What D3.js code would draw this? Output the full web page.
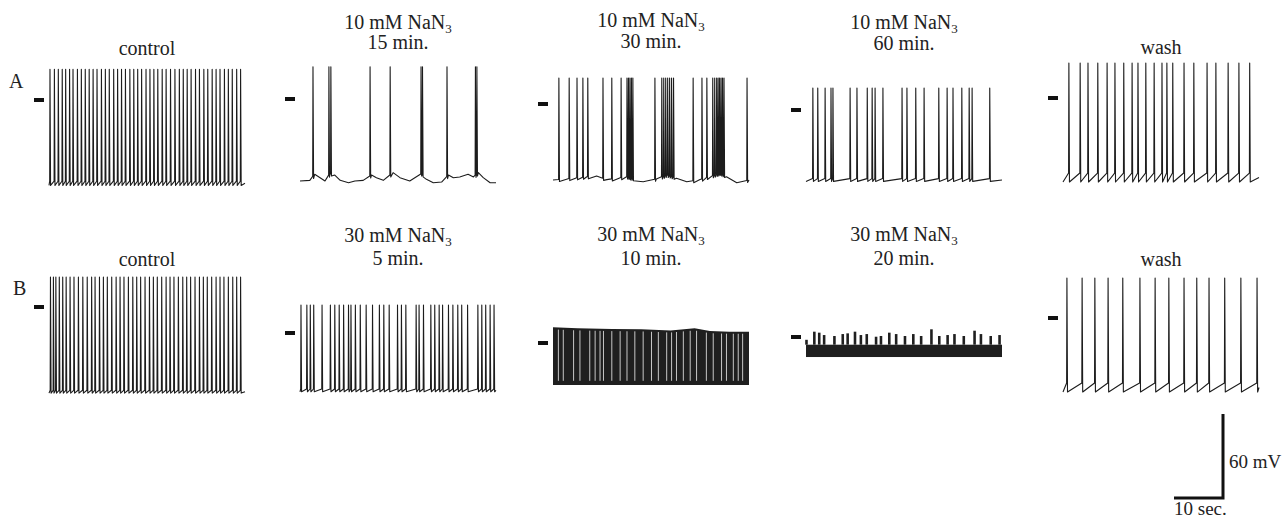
<html>
<head>
<script src="https://d3js.org/d3.v7.min.js"></script>
<style>
body { margin:0; background:#fff; }
text { font-family: "Liberation Serif", "DejaVu Serif", serif; fill:#222; }
</style>
</head>
<body>
<script>
var width = 1285;
var height = 520;
var trW = 196;          // 40 s of trace
var secLen = 40;
var pxPerMv = 1.4;      // 60 mV = 84 px

// ---- data (times in s, potentials in mV; 0 mV = the small dash) ----
var ctrlA = [0.2,1.1,1.9,2.7,3.4,4.2,4.9,5.8,6.6,7.4,8.2,9.0,9.8,10.7,11.5,12.3,13.2,14.0,14.8,15.6,16.5,17.3,18.1,18.9,19.8,20.6,21.4,22.2,23.1,23.9,24.8,25.7,26.6,27.4,28.2,29.0,29.9,30.7,31.6,32.4,33.3,34.1,34.9,35.8,36.6,37.4,38.3,39.1];
var na15 = [2.65,5.9,6.3,14.3,18.4,24.7,25.0,30.0,35.8,36.1];
var na15Base = [[0,-58.6],[2.0,-58.1],[3.0,-53.8],[4.1,-56.2],[5.1,-58.6],[6.1,-53.3],[7.1,-54.3],[8.2,-58.1],[9.9,-59.8],[11.2,-58.6],[12.9,-58.1],[14.6,-54.3],[15.6,-56.2],[17.0,-58.1],[19.0,-52.6],[20.4,-56.2],[22.4,-58.6],[24.8,-53.3],[25.8,-57.4],[27.2,-59.8],[28.9,-59.3],[30.3,-54.3],[31.3,-56.2],[32.6,-55.7],[34.3,-53.8],[35.4,-55.7],[36.4,-52.6],[37.4,-56.2],[38.8,-59.8],[40,-59.8]];
var na30 = [1.2,3.3,4.9,6.1,7.1,10.2,12.0,13.9,15.1,15.4,15.7,16.0,16.3,20.8,22.2,22.6,23.0,23.4,23.8,24.2,24.6,28.6,30.4,31.4,32.6,33.0,33.4,33.7,34.0,34.3,34.6,34.9,39.6];
var na30Base = [[0,-54.3],[6.9,-52],[8.9,-51.5],[11.0,-54],[15.0,-52],[18.4,-55.5],[21.1,-53.5],[23.2,-50.7],[25.2,-53],[27.3,-55.5],[30.0,-54],[34.1,-49.5],[35.4,-52],[37.5,-56.2],[40,-54.3]];
var na60 = [1.4,2.4,3.9,5.1,5.5,9.0,10.4,12.5,13.5,14.1,15.7,19.6,20.6,22.4,24.1,27.1,28.8,30.0,31.8,33.3,33.9,37.5];
var washA = [1.2,3.5,5.1,7.1,9.0,10.6,12.4,14.1,15.3,16.9,18.6,20.2,21.2,22.4,24.7,26.7,29.4,31.2,33.7,35.9,38.1];

var ctrlB = [0.3,0.9,1.4,2.1,2.8,3.5,4.3,5.1,6.0,6.9,7.8,8.7,9.4,10.3,11.1,11.9,12.8,13.7,14.5,15.3,16.2,17.1,17.9,18.7,19.6,20.5,21.3,22.1,23.0,23.9,24.7,25.5,26.4,27.3,28.1,28.9,29.8,30.7,31.5,32.3,33.2,34.1,34.9,35.7,36.6,37.5,38.3,39.1];
var n5 = [0.2,1.4,2.1,2.8,4.5,6.2,7.1,8.0,8.9,9.9,10.4,11.3,12.3,13.5,14.8,16.2,17.1,18.2,19.9,20.7,21.6,23.7,24.3,25.2,26.7,27.5,28.4,29.1,30.3,31.2,32.2,33.0,34.2,36.3,37.1,37.9,38.8,39.6];
var n10Top = [[0,11.2],[5,10.5],[12,10],[18,9.8],[24,9],[28.9,10.5],[32,8.5],[36,8.1],[40,8.1]];
var n10Bottom = -30;
var n10Gaps = [1.1,2.1,4.2,5.5,7.5,8.6,9.6,10.3,12.0,13.7,15.1,16.7,18.4,20.1,21.5,23.2,24.2,25.2,26.6,28.0,29.3,31.3,32.7,34.4,35.4,36.8,37.8,38.7];
var n20Band = [-14.3, -5.5];
var n20Spikes = [[0.1,-2],[1.7,3.8],[2.7,3.1],[3.7,1.4],[5.8,0.7],[7.5,2.1],[8.5,2.6],[10.0,3.8],[11.2,1.4],[12.4,2.1],[14.3,0.2],[15.3,0.7],[17.0,3.1],[18.4,2.1],[20.2,0.7],[21.9,2.1],[23.5,0.7],[25.6,5.5],[27.2,0.7],[28.9,1.4],[30.3,2.1],[32.2,0.7],[34.4,4.5],[35.7,2.1],[37.7,0.7],[39.5,1.4]];
var washB = [0.8,3.9,6.5,9.2,12.2,15.7,18.8,21.6,24.7,27.3,29.8,33.0,36.3,39.6];

// ---- layout of the panels ----
var colX = [49, 300, 553, 806, 1063];
var panels = [
  {col:0, zero:100, title:["control"], ty:[55], spikes:ctrlA, peak:22, thr:-58, ahp:-61},
  {col:1, zero:99, title:["10 mM NaN|3","15 min."], ty:[29,49], spikes:na15, peak:23, base:na15Base},
  {col:2, zero:104, title:["10 mM NaN|3","30 min."], ty:[27,48], spikes:na30, peak:18.6, base:na30Base},
  {col:3, zero:110, title:["10 mM NaN|3","60 min."], ty:[29,50], spikes:na60, peak:15.7, thr:-49, ahp:-51},
  {col:4, zero:98, title:["wash"], ty:[54], spikes:washA, peak:25, thr:-53.6, ahp:-60},
  {col:0, zero:307, title:["control"], ty:[266], spikes:ctrlB, peak:21.4, thr:-59.5, ahp:-61.5},
  {col:1, zero:333, title:["30 mM NaN|3","5 min."], ty:[242,265], spikes:n5, peak:20, thr:-40, ahp:-42},
  {col:2, zero:343, title:["30 mM NaN|3","10 min."], ty:[241,265], block:true},
  {col:3, zero:337, title:["30 mM NaN|3","20 min."], ty:[241,265], band:true},
  {col:4, zero:318, title:["wash"], ty:[266], spikes:washB, peak:28.6, thr:-46.4, ahp:-52.9}
];

var svg = d3.select("body").append("svg")
    .attr("width", width)
    .attr("height", height);

svg.append("text").attr("x", 9).attr("y", 88).style("font-size", "20px").text("A");
svg.append("text").attr("x", 13).attr("y", 295).style("font-size", "20px").text("B");

function buildTrace(p) {
  var bl = p.base ? d3.scaleLinear().domain(p.base.map(function(d){return d[0];})).range(p.base.map(function(d){return d[1];})) : null;
  var pts = [[0, bl ? bl(0) : p.ahp]];
  var last = 0;
  p.spikes.forEach(function(t) {
    if (bl) p.base.forEach(function(b){ if (b[0] > last && b[0] < t - 0.06) pts.push(b); });
    pts.push([t - 0.06, bl ? bl(t) : p.thr]);
    pts.push([t, p.peak]);
    pts.push([t + 0.12, bl ? bl(t) - 1.5 : p.ahp]);
    last = t + 0.12;
  });
  if (bl) p.base.forEach(function(b){ if (b[0] > last) pts.push(b); });
  else pts.push([secLen, (p.thr + p.ahp) / 2]);
  return pts;
}

panels.forEach(function(p) {
  var x0 = colX[p.col];
  var x = d3.scaleLinear().domain([0, secLen]).range([x0, x0 + trW]);
  var y = d3.scaleLinear().domain([0, 60]).range([p.zero, p.zero - 60 * pxPerMv]);
  var g = svg.append("g");

  // title
  p.title.forEach(function(line, i) {
    var parts = line.split("|");
    var t = g.append("text")
        .attr("x", x0 + trW / 2)
        .attr("y", p.ty[i])
        .attr("text-anchor", "middle")
        .style("font-size", "20px")
        .text(parts[0]);
    if (parts[1]) t.append("tspan").attr("dy", 4).style("font-size", "13px").text(parts[1]);
  });

  // 0 mV dash
  g.append("rect")
    .attr("x", x0 - 15).attr("y", y(0) - 2)
    .attr("width", 10).attr("height", 4)
    .attr("fill", "#111");

  var line = d3.line().x(function(d){return x(d[0]);}).y(function(d){return y(d[1]);});

  if (p.block) {
    g.append("path")
      .datum(n10Top)
      .attr("d", d3.area()
        .x(function(d){return x(d[0]);})
        .y0(y(n10Bottom))
        .y1(function(d){return y(d[1]);}))
      .attr("fill", "#1f1f1f");
    var topAt = d3.scaleLinear().domain(n10Top.map(function(d){return d[0];})).range(n10Top.map(function(d){return d[1];}));
    g.selectAll(".gap").data(n10Gaps).enter().append("line")
      .attr("x1", function(d){return x(d);}).attr("x2", function(d){return x(d);})
      .attr("y1", function(d){return y(topAt(d) - 1.5);})
      .attr("y2", y(n10Bottom + 3))
      .attr("stroke", "#fff").attr("stroke-opacity", 0.75).attr("stroke-width", 1);
  } else if (p.band) {
    g.append("rect")
      .attr("x", x(0)).attr("width", x(secLen) - x(0))
      .attr("y", y(n20Band[1])).attr("height", y(n20Band[0]) - y(n20Band[1]))
      .attr("fill", "#1f1f1f");
    g.selectAll(".spk").data(n20Spikes).enter().append("line")
      .attr("x1", function(d){return x(d[0]);}).attr("x2", function(d){return x(d[0]);})
      .attr("y1", y(n20Band[1])).attr("y2", function(d){return y(d[1]);})
      .attr("stroke", "#1f1f1f").attr("stroke-width", 2.6);
  } else {
    g.append("path")
      .datum(buildTrace(p))
      .attr("d", line)
      .attr("fill", "none")
      .attr("stroke", "#1c1c1c")
      .attr("stroke-width", 1.1)
      .attr("stroke-linejoin", "round");
  }
});

// scale bar
var sbX = d3.scaleLinear().domain([0, 10]).range([1174, 1174 + 49]);
var sbY = d3.scaleLinear().domain([0, 60]).range([498, 498 - 60 * pxPerMv]);
svg.append("path")
  .attr("d", "M" + sbX(0) + "," + sbY(0) + "H" + sbX(10) + "V" + sbY(60))
  .attr("fill", "none").attr("stroke", "#111").attr("stroke-width", 3)
  .attr("stroke-linejoin", "miter");
svg.append("text").attr("x", 1229).attr("y", 468).style("font-size", "19px").text("60 mV");
svg.append("text").attr("x", 1174).attr("y", 515).style("font-size", "19px").text("10 sec.");
</script>
</body>
</html>
